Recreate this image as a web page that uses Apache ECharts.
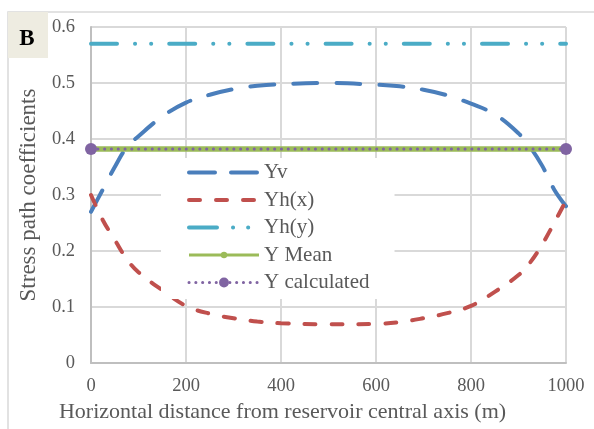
<!DOCTYPE html>
<html>
<head>
<meta charset="utf-8">
<script src="https://cdn.jsdelivr.net/npm/echarts@6/dist/echarts.min.js"></script>
<style>
  html, body { margin: 0; padding: 0; background: #fff; }
  #chart { width: 594px; height: 429px; }
</style>
</head>
<body>
<div id="chart"></div>
<script>
var xDist = [0, 25, 50, 75, 100, 150, 200, 250, 300, 350, 400, 500, 600, 650, 700, 750, 800, 850, 900, 925, 950, 975, 1000];
var yv    = [0.27, 0.31, 0.35, 0.385, 0.405, 0.44, 0.465, 0.479, 0.489, 0.495, 0.498, 0.5, 0.497, 0.494, 0.488, 0.478, 0.463, 0.444, 0.41, 0.385, 0.352, 0.31, 0.28];
var yhx   = [0.30, 0.255, 0.22, 0.186, 0.162, 0.13, 0.102, 0.088, 0.08, 0.074, 0.071, 0.069, 0.07, 0.073, 0.08, 0.089, 0.102, 0.127, 0.157, 0.18, 0.212, 0.25, 0.29];
var endX  = [0, 1000];
var yhy   = [0.57, 0.57];
var yMean = [0.382, 0.382];
var yCalc = [0.382, 0.382];
var seriesNames = ['Yv', 'Yh(x)', 'Yh(y)', 'Y Mean', 'Y calculated'];

function pairs(xs, ys) {
  return xs.map(function (x, i) { return [x, ys[i]]; });
}

var serif = '"Liberation Serif", "DejaVu Serif", serif';
var chart = echarts.init(document.getElementById('chart'));

var option = {
  animation: false,
  backgroundColor: '#fff',
  grid: { left: 91, right: 28, top: 27, bottom: 66 },
  graphic: [
    {
      type: 'rect',
      shape: { x: 8, y: 12, width: 620, height: 460 },
      style: { fill: 'none', stroke: '#d9d9d9', lineWidth: 1.5 },
      z: -1
    },
    {
      type: 'rect',
      shape: { x: 8, y: 12, width: 40, height: 46 },
      style: { fill: '#eeece1' }
    },
    {
      type: 'text',
      x: 27, y: 39,
      style: { text: 'B', font: 'bold 23px ' + serif, fill: '#000', align: 'center', verticalAlign: 'middle' }
    }
  ],
  legend: {
    data: [
      { name: seriesNames[0], itemStyle: { opacity: 0 }, lineStyle: { color: '#4a7ebb', width: 4, type: [26, 16], cap: 'round' } },
      { name: seriesNames[1], itemStyle: { opacity: 0 }, lineStyle: { color: '#c0504d', width: 4, type: [11, 16], cap: 'round' } },
      { name: seriesNames[2], itemStyle: { opacity: 0 }, lineStyle: { color: '#4bacc6', width: 4, type: [28, 16, 0.1, 15, 0.1, 30], cap: 'round' } },
      { name: seriesNames[3], itemStyle: { color: '#9bbb59' }, lineStyle: { color: '#9bbb59', width: 3 } },
      { name: seriesNames[4], itemStyle: { color: '#8064a2', borderColor: '#8064a2', borderWidth: 3.5 },
        lineStyle: { color: '#8064a2', width: 3, type: [0.1, 6.7], cap: 'round' } }
    ],
    orient: 'vertical',
    left: 161,
    top: 158,
    padding: [4, 25, 6, 26],
    itemGap: 6.5,
    itemWidth: 70,
    itemHeight: 8,
    backgroundColor: '#fff',
    textStyle: { fontFamily: serif, fontSize: 21, color: '#595959', lineHeight: 21 }
  },
  xAxis: {
    type: 'value',
    min: 0, max: 1000, interval: 200,
    name: 'Horizontal distance from reservoir central axis (m)',
    nameLocation: 'middle',
    nameGap: 37,
    nameTextStyle: { fontFamily: serif, fontSize: 22, color: '#595959', padding: [0, 92, 0, 0] },
    axisLine: { lineStyle: { color: '#bfbfbf', width: 2 } },
    axisTick: { show: false },
    axisLabel: { fontFamily: serif, fontSize: 18.5, color: '#595959', margin: 14,
      formatter: function (v) { return String(v); } },
    splitLine: { lineStyle: { color: '#d9d9d9', width: 2 } }
  },
  yAxis: {
    type: 'value',
    min: 0, max: 0.6, interval: 0.1,
    name: 'Stress path coefficients',
    nameLocation: 'middle',
    nameGap: 51,
    nameTextStyle: { fontFamily: serif, fontSize: 23, color: '#595959' },
    axisLine: { show: true, lineStyle: { color: '#bfbfbf', width: 2 } },
    axisTick: { show: false },
    axisLabel: { fontFamily: serif, fontSize: 18.5, color: '#595959', margin: 16 },
    splitLine: { lineStyle: { color: '#d9d9d9', width: 2 } }
  },
  series: [
    {
      name: 'Yv', type: 'line', data: pairs(xDist, yv), smooth: 0.4, symbol: 'none',
      lineStyle: { color: '#4a7ebb', width: 4, type: [24, 19], cap: 'round' },
      itemStyle: { color: '#4a7ebb' }
    },
    {
      name: 'Yh(x)', type: 'line', data: pairs(xDist, yhx), smooth: 0.4, symbol: 'none',
      lineStyle: { color: '#c0504d', width: 4, type: [11, 16], cap: 'round' },
      itemStyle: { color: '#c0504d' }
    },
    {
      name: 'Yh(y)', type: 'line', data: pairs(endX, yhy), symbol: 'none',
      lineStyle: { color: '#4bacc6', width: 4, type: [26, 18, 0.1, 16, 0.1, 18], cap: 'round' },
      itemStyle: { color: '#4bacc6' }
    },
    {
      name: 'Y Mean', type: 'line', data: pairs(endX, yMean), symbol: 'circle', symbolSize: 6,
      lineStyle: { color: '#9bbb59', width: 5.5 },
      itemStyle: { color: '#9bbb59' }
    },
    {
      name: 'Y calculated', type: 'line', data: pairs(endX, yCalc), symbol: 'circle', symbolSize: 12,
      clip: false,
      lineStyle: { color: '#8064a2', width: 3, type: [0.1, 6.7], cap: 'round' },
      itemStyle: { color: '#8064a2' }
    }
  ]
};

chart.setOption(option);
</script>
</body>
</html>
